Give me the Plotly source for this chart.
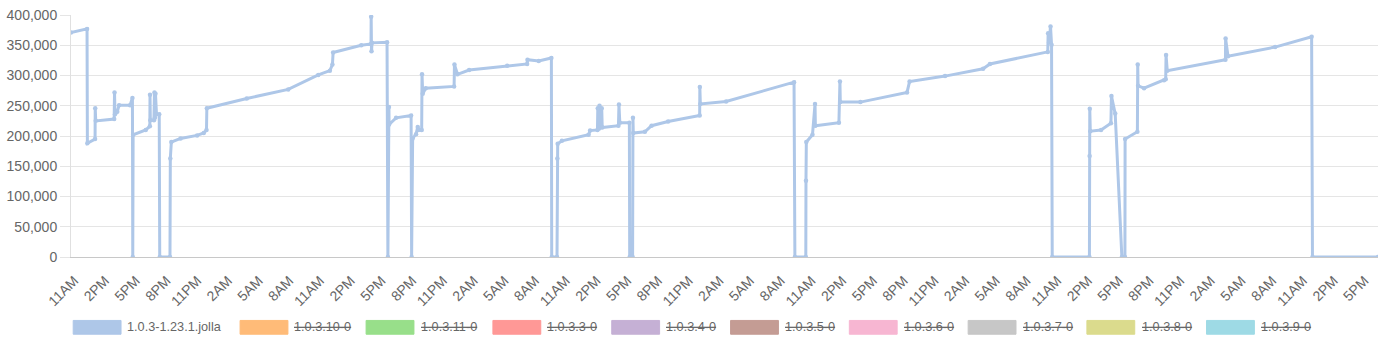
import plotly.graph_objects as go

# ---------------- data ----------------
timestamps = [
    "2015-06-01 10:40", "2015-06-01 12:14", "2015-06-01 12:16", "2015-06-01 13:01", "2015-06-01 13:02",
    "2015-06-01 13:05", "2015-06-01 14:53", "2015-06-01 14:55", "2015-06-01 14:58", "2015-06-01 15:11",
    "2015-06-01 15:22", "2015-06-01 16:26", "2015-06-01 16:40", "2015-06-01 16:42", "2015-06-01 16:44",
    "2015-06-01 17:58", "2015-06-01 18:22", "2015-06-01 18:23", "2015-06-01 18:25", "2015-06-01 18:46",
    "2015-06-01 18:49", "2015-06-01 18:52", "2015-06-01 18:55", "2015-06-01 19:01", "2015-06-01 19:17",
    "2015-06-01 19:20", "2015-06-01 20:20", "2015-06-01 20:22", "2015-06-01 20:28", "2015-06-01 21:22",
    "2015-06-01 22:59", "2015-06-01 23:38", "2015-06-01 23:54", "2015-06-01 23:56", "2015-06-02 03:50",
    "2015-06-02 07:53", "2015-06-02 10:49", "2015-06-02 11:57", "2015-06-02 12:12", "2015-06-02 12:16",
    "2015-06-02 15:01", "2015-06-02 15:58", "2015-06-02 15:59", "2015-06-02 16:01", "2015-06-02 16:04",
    "2015-06-02 17:32", "2015-06-02 17:37", "2015-06-02 17:43", "2015-06-02 17:44", "2015-06-02 18:25",
    "2015-06-02 19:53", "2015-06-02 19:56", "2015-06-02 20:02", "2015-06-02 20:22", "2015-06-02 20:32",
    "2015-06-02 20:37", "2015-06-02 20:55", "2015-06-02 20:57", "2015-06-02 21:01", "2015-06-02 21:19",
    "2015-06-03 00:05", "2015-06-03 00:07", "2015-06-03 00:25", "2015-06-03 01:33", "2015-06-03 05:16",
    "2015-06-03 07:13", "2015-06-03 07:15", "2015-06-03 08:21", "2015-06-03 09:35", "2015-06-03 09:37",
    "2015-06-03 10:08", "2015-06-03 10:10", "2015-06-03 10:12", "2015-06-03 10:37", "2015-06-03 13:13",
    "2015-06-03 13:22", "2015-06-03 14:05", "2015-06-03 14:07", "2015-06-03 14:13", "2015-06-03 14:17",
    "2015-06-03 14:20", "2015-06-03 14:30", "2015-06-03 14:33", "2015-06-03 16:08", "2015-06-03 16:11",
    "2015-06-03 16:16", "2015-06-03 17:12", "2015-06-03 17:14", "2015-06-03 17:31", "2015-06-03 17:33",
    "2015-06-03 17:35", "2015-06-03 18:43", "2015-06-03 19:22", "2015-06-03 20:59", "2015-06-04 00:04",
    "2015-06-04 00:05", "2015-06-04 00:08", "2015-06-04 02:39", "2015-06-04 09:17", "2015-06-04 09:22",
    "2015-06-04 10:26", "2015-06-04 10:27", "2015-06-04 10:29", "2015-06-04 11:05", "2015-06-04 11:20",
    "2015-06-04 11:22", "2015-06-04 13:40", "2015-06-04 13:46", "2015-06-04 13:48", "2015-06-04 15:46",
    "2015-06-04 20:19", "2015-06-04 20:34", "2015-06-05 00:02", "2015-06-05 03:45", "2015-06-05 04:25",
    "2015-06-05 10:04", "2015-06-05 10:06", "2015-06-05 10:12", "2015-06-05 10:20", "2015-06-05 10:26",
    "2015-06-05 10:30", "2015-06-05 14:08", "2015-06-05 14:09", "2015-06-05 14:10", "2015-06-05 14:13",
    "2015-06-05 15:16", "2015-06-05 16:14", "2015-06-05 16:17", "2015-06-05 16:39", "2015-06-05 17:18",
    "2015-06-05 17:36", "2015-06-05 17:37", "2015-06-05 18:49", "2015-06-05 18:51", "2015-06-05 18:53",
    "2015-06-05 19:28", "2015-06-05 21:25", "2015-06-05 21:35", "2015-06-05 21:37", "2015-06-05 21:44",
    "2015-06-06 03:25", "2015-06-06 03:26", "2015-06-06 03:40", "2015-06-06 08:16", "2015-06-06 11:50",
    "2015-06-06 11:55", "2015-06-06 18:19",
]

users_jolla = [
    371000, 377000, 188000, 195000, 246000,
    225000, 228000, 272000, 236000, 240000,
    251000, 251000, 263000, 0, 202000,
    210000, 216000, 268000, 226000, 226000,
    272000, 230000, 270000, 236000, 236000,
    0, 0, 163000, 190000, 196000,
    201000, 205000, 210000, 246000, 262000,
    277000, 301000, 308000, 318000, 338000,
    350000, 352000, 397000, 340000, 354000,
    355000, 0, 248000, 219000, 230000,
    234000, 0, 196000, 203000, 215000,
    210000, 210000, 302000, 270000, 279000,
    282000, 318000, 302000, 309000, 316000,
    319000, 326000, 324000, 329000, 0,
    0, 163000, 187000, 192000, 202000,
    209000, 210000, 246000, 212000, 250000,
    214000, 246000, 214000, 217000, 252000,
    222000, 222000, 0, 0, 230000,
    205000, 207000, 217000, 224000, 234000,
    281000, 253000, 257000, 289000, 0,
    0, 126000, 190000, 202000, 253000,
    217000, 222000, 290000, 256000, 256000,
    272000, 290000, 299000, 311000, 319000,
    339000, 370000, 355000, 381000, 351000,
    0, 0, 167000, 245000, 208000,
    210000, 221000, 266000, 237000, 0,
    0, 195000, 207000, 318000, 283000,
    279000, 292000, 294000, 334000, 308000,
    326000, 361000, 332000, 347000, 364000,
    0, 0,
]

series_names = ["1.0.3-1.23.1.jolla", "1.0.3.10-0", "1.0.3.11-0", "1.0.3.3-0", "1.0.3.4-0",
                "1.0.3.5-0", "1.0.3.6-0", "1.0.3.7-0", "1.0.3.8-0", "1.0.3.9-0"]
series_colors = ["#aec7e8", "#ffbb78", "#98df8a", "#ff9896", "#c5b0d5",
                 "#c49c94", "#f7b6d2", "#c7c7c7", "#dbdb8d", "#9edae5"]
series_hidden = [False, True, True, True, True, True, True, True, True, True]

y_ticks = [0, 50000, 100000, 150000, 200000, 250000, 300000, 350000, 400000]

# ---------------- layout constants ----------------
FIG_W, FIG_H = 1385, 349
M_L, M_R, M_T, M_B = 67, 7, 11, 92
PLOT_W = FIG_W - M_L - M_R
PLOT_H = FIG_H - M_T - M_B
PLOT_BOTTOM = FIG_H - M_B

def px_x(px):
    return (px - M_L) / PLOT_W

def px_y(py):
    return (PLOT_BOTTOM - py) / PLOT_H

TICK_FONT = dict(family="Liberation Sans, Arial, sans-serif", size=14, color="#666666")
LEGEND_FONT = dict(family="Liberation Sans, Arial, sans-serif", size=12.7, color="#666666")

# legend placement (pixels)
legend_box_x = [69.2, 236.6, 363, 490.2, 609.4, 728.6, 847.7, 966.9, 1086, 1206]
legend_text_x = [121, 289, 415.8, 542.5, 661.6, 781.3, 900.5, 1019.6, 1139.2, 1258.4]
LEG_BOX_W = 48
LEG_Y0, LEG_Y1 = 321.5, 335.5
LEG_YC = 328.5

# ---------------- figure ----------------
fig = go.Figure()
fig.add_trace(go.Scatter(
    x=timestamps, y=users_jolla, name=series_names[0],
    mode="lines+markers",
    line=dict(color=series_colors[0], width=3),
    marker=dict(color=series_colors[0], size=4.5),
    showlegend=False,
))

shapes = []
annotations = []
for name, color, hidden, bx, tx in zip(series_names, series_colors, series_hidden,
                                       legend_box_x, legend_text_x):
    shapes.append(dict(type="rect", xref="paper", yref="paper",
                       x0=px_x(bx), x1=px_x(bx + LEG_BOX_W),
                       y0=px_y(LEG_Y1), y1=px_y(LEG_Y0),
                       fillcolor=color, line=dict(color=color, width=1), layer="above"))
    label = f"<s>{name}</s>" if hidden else name
    annotations.append(dict(text=label, xref="paper", yref="paper",
                            x=px_x(tx), y=px_y(LEG_YC), xanchor="left", yanchor="middle",
                            showarrow=False, font=LEGEND_FONT))

fig.update_layout(
    width=FIG_W, height=FIG_H,
    margin=dict(l=M_L, r=M_R, t=M_T, b=M_B, pad=0),
    paper_bgcolor="white", plot_bgcolor="white",
    showlegend=False,
    shapes=shapes, annotations=annotations,
    hovermode="closest",
)
fig.update_xaxes(
    type="date",
    range=[timestamps[0], timestamps[-1]],
    tick0="2015-06-01 02:00", dtick=3 * 3600 * 1000,
    tickformat="%-I%p", tickangle=-45,
    tickfont=TICK_FONT,
    ticks="outside", ticklen=9, tickcolor="rgba(0,0,0,0)",
    showgrid=False, zeroline=False,
    showline=True, linecolor="#c8c8c8", linewidth=1,
)
fig.update_yaxes(
    range=[0, 400000], tickvals=y_ticks, tickformat=",d",
    tickfont=TICK_FONT,
    ticks="outside", ticklen=10, tickcolor="#e5e5e5",
    showgrid=True, gridcolor="#e5e5e5", gridwidth=1,
    zeroline=False,
    showline=True, linecolor="#e0e0e0", linewidth=1,
)

fig.write_html("out.html")
